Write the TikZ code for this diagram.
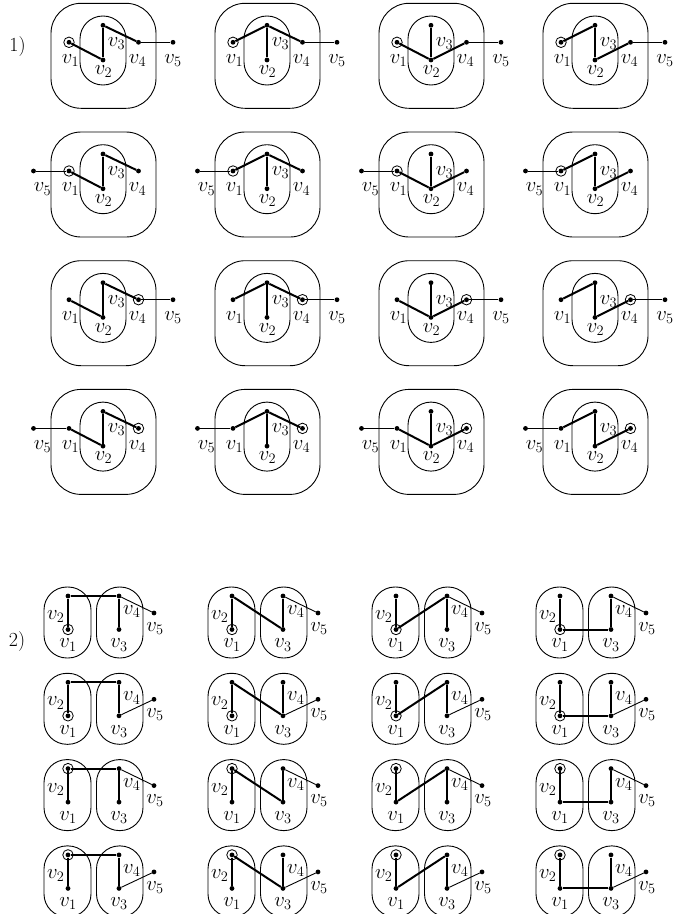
\documentclass[tikz,border=0pt]{standalone}
\usepackage{tikz}

\begin{document}
\begin{tikzpicture}[x=1pt, y=-1pt,
  every node/.style={font=\fontsize{20}{24}\selectfont},
  ring/.style={line width=0.9pt, rounded corners=30pt},
  pod/.style={line width=0.9pt, rounded corners=22.9pt},
  vtx/.style={circle, fill, inner sep=0pt, minimum size=4.8pt},
  rootmark/.style={circle, draw, line width=0.8pt, inner sep=0pt, minimum size=10.5pt},
  lbl/.style={inner sep=0pt},
  tree/.style={line width=2pt},
  leaf/.style={line width=0.9pt}
]
\useasboundingbox (0,0) rectangle (675,914);

\node[lbl] (tag1) at (17.5,46.5) {1)};
\node[lbl] (tag2) at (17,641.5) {2)};

% part 1: outer ring with inner pod
\foreach \r/\rt/\sx/\sto/\lx in {0/1/69.5/4/69.5, 1/1/-70/1/-61, 2/4/69.5/4/69.5, 3/4/-70/1/-61}
\foreach \c/\a/\b in {0/2/3, 1/3/3, 2/2/2, 3/3/2} {
  \begin{scope}[shift={(103.5+164*\c, 55.8+128.7*\r)}]
    \draw[ring] (-52.5,-52.5) rectangle (52.5,52.5);
    \draw[pod] (-23.5,-39.8) rectangle (22.5,29.2);
    \node[vtx] (a\r\c-1) at (-34.5,-13.5) {};
    \node[vtx] (a\r\c-2) at (-0.5,4.2) {};
    \node[vtx] (a\r\c-3) at (-0.5,-30.5) {};
    \node[vtx] (a\r\c-4) at (35,-13.5) {};
    \node[vtx] (a\r\c-5) at (\sx,-13.5) {};
    \node[rootmark] (a\r\c-r) at (a\r\c-\rt) {};
    \node[lbl] (a\r\c-l1) at (-33,4.5) {$v_1$};
    \node[lbl] (a\r\c-l2) at (0,16) {$v_2$};
    \node[lbl] (a\r\c-l3) at (13,-12) {$v_3$};
    \node[lbl] (a\r\c-l4) at (34,4.5) {$v_4$};
    \node[lbl] (a\r\c-l5) at (\lx,4.5) {$v_5$};
    \draw[tree] (a\r\c-1) -- (a\r\c-\a);
    \draw[tree] (a\r\c-2) -- (a\r\c-3);
    \draw[tree] (a\r\c-\b) -- (a\r\c-4);
    \draw[leaf] (a\r\c-\sto) -- (a\r\c-5);
  \end{scope}
}

% part 2: two pods side by side
\foreach \r/\rt/\t in {0/1/4, 1/1/3, 2/2/4, 3/2/3}
\foreach \c/\p/\q in {0/2/4, 1/2/3, 2/1/4, 3/1/3} {
  \begin{scope}[shift={(67.5+164*\c, 622.5+86.3*\r)}]
    \draw[pod] (-23.5,-35.5) rectangle (23.5,35.5);
    \draw[pod] (29,-35.5) rectangle (75.5,35.5);
    \node[vtx] (b\r\c-1) at (0.5,7) {};
    \node[vtx] (b\r\c-2) at (0.5,-26.5) {};
    \node[vtx] (b\r\c-3) at (51.5,7) {};
    \node[vtx] (b\r\c-4) at (51.5,-26.5) {};
    \node[vtx] (b\r\c-5) at (86.5,-9.5) {};
    \node[rootmark] (b\r\c-r) at (b\r\c-\rt) {};
    \node[lbl] (b\r\c-l1) at (0.5,22.5) {$v_1$};
    \node[lbl] (b\r\c-l2) at (-11.8,-5.8) {$v_2$};
    \node[lbl] (b\r\c-l3) at (51.5,22.5) {$v_3$};
    \node[lbl] (b\r\c-l4) at (64.2,-10.8) {$v_4$};
    \node[lbl] (b\r\c-l5) at (87.5,5.8) {$v_5$};
    \draw[tree] (b\r\c-1) -- (b\r\c-2);
    \draw[tree] (b\r\c-\p) -- (b\r\c-\q);
    \draw[tree] (b\r\c-3) -- (b\r\c-4);
    \draw[leaf] (b\r\c-\t) -- (b\r\c-5);
  \end{scope}
}
\end{tikzpicture}
\end{document}
